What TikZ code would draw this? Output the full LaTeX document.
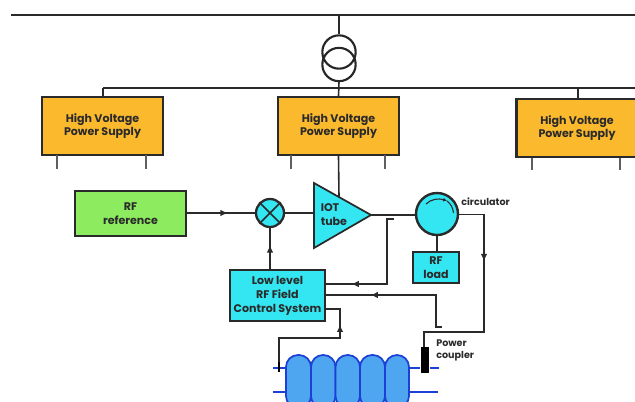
\documentclass[tikz,border=0pt]{standalone}
\usepackage{fontspec}
\setmainfont{Poppins}
\usetikzlibrary{arrows.meta,decorations.markings}
\definecolor{hv}{HTML}{FBB92E}
\definecolor{cy}{HTML}{33E6F2}
\definecolor{gr}{HTML}{8CEB5E}
\definecolor{cavfill}{HTML}{4FA6F0}
\definecolor{cavline}{HTML}{1C3FD6}
\definecolor{ln}{HTML}{2A2A2A}
\tikzset{
  x=0.75pt,y=-0.75pt,
  wire/.style={draw=ln,line width=1.2pt},
  blockbox/.style={draw=ln,line width=1.8pt,inner sep=0pt,align=center,font=\fontsize{8.3}{10.6}\selectfont\bfseries,text=ln},
  hvbox/.style={blockbox,fill=hv,minimum width=90.75pt,minimum height=43.5pt},
  tip/.style={postaction={decorate},decoration={markings,mark=at position #1 with {\arrow{Latex[length=5.5pt,width=5pt]}}}},
  cell/.style={draw=cavline,fill=cavfill,line width=1.3pt,rounded corners=9pt},
  pipe/.style={draw=cavline,line width=1.2pt},
  lab/.style={font=\fontsize{7.2}{9}\selectfont\bfseries,text=ln,align=left,inner sep=0pt}
}
\begin{document}
\begin{tikzpicture}
\useasboundingbox (0,0) rectangle (635,401);
\clip (0,0) rectangle (635,401);
% supply and transformer
\coordinate (busL) at (11,15);
\coordinate (busR) at (635,15);
\draw[draw=ln,line width=1.4pt] (busL) -- (busR);
\node[draw=ln!90!black,line width=1.6pt,circle,minimum size=25pt,inner sep=0pt] (t1) at (339,52) {};
\node[draw=ln!90!black,line width=1.6pt,circle,minimum size=25pt,inner sep=0pt] (t2) at (339,64.5) {};
\coordinate (busTap) at (339,15);
\draw[wire] (busTap) -- (t1.north);
% power supplies
\node[hvbox] (h1) at (102.5,126) {\raisebox{1pt}{\begin{tabular}{@{}c@{}}High Voltage\\[-1pt]Power Supply\end{tabular}}};
\node[hvbox] (h2) at (338.5,126) {\raisebox{1pt}{\begin{tabular}{@{}c@{}}High Voltage\\[-1pt]Power Supply\end{tabular}}};
\node[hvbox] (h3) at (577,128) {\raisebox{1pt}{\begin{tabular}{@{}c@{}}High Voltage\\[-1pt]Power Supply\end{tabular}}};
\coordinate (dL) at (103,88);
\coordinate (dR) at (635,88);
\coordinate (dT) at (578,88);
\draw[wire] (t2.south) -- (h2.north);
\draw[wire] (dL) -- (dR);
\draw[wire] (dL) -- (dL |- h1.north);
\draw[wire] (dT) -- (dT |- h3.north);
\foreach \n/\a/\b/\ya/\yb in {1/57/146/155/169,2/291/385/155/169,3/532/620/158/170}{
  \coordinate (sa\n) at (\a,\ya); \coordinate (sb\n) at (\a,\yb);
  \coordinate (ta\n) at (\b,\ya); \coordinate (tb\n) at (\b,\yb);
  \draw[wire,draw=ln!75] (sa\n) -- (sb\n);
  \draw[wire,draw=ln!75] (ta\n) -- (tb\n);
}
% RF chain
\coordinate (tubeTop) at (339,197);
\draw[wire] (h2.south) -- (tubeTop);
\node[blockbox,fill=gr,minimum width=83.25pt,minimum height=33.75pt] (ref) at (130.5,213.5) {RF\\reference};
\node[draw=ln,line width=1.7pt,fill=cy,circle,minimum size=21pt,inner sep=0pt] (mix) at (270,213) {};
\draw[draw=ln,line width=1.1pt] (mix.north west) -- (mix.south east) (mix.north east) -- (mix.south west);
\path[fill=cy,draw=ln,line width=1.3pt] (314,183) coordinate (tA) -- (371,215) coordinate (tC) -- (314,248) coordinate (tB) -- cycle;
\node[font=\fontsize{8.3}{10.6}\selectfont\bfseries,text=ln,align=left,inner sep=0pt,anchor=west] (iot) at (320.5,215) {IOT\\tube};
\node[draw=ln,line width=1.8pt,fill=cy,circle,minimum size=31.5pt,inner sep=0pt] (circ) at (437,214) {};
\draw[draw=ln,line width=0.8pt,-{Latex[length=3pt,width=3pt]}] (426,204) .. controls (431,199) and (439,198) .. (447,201);
\draw[draw=ln,line width=0.8pt] (447,201) .. controls (451,204) and (453,208) .. (453.5,213);
\node[blockbox,fill=cy,minimum width=34.5pt,minimum height=23.25pt] (load) at (436,267.5) {RF\\load};
\node[blockbox,fill=cy,minimum width=71.25pt,minimum height=38.25pt] (llrf) at (277.5,295.5) {Low level\\RF Field\\Control System};
\node[lab,anchor=west] (clab) at (461,202) {circulator};
\node[lab,anchor=west] (plab) at (436,350) {Power\\coupler};
\draw[wire,tip=0.6] (ref.east |- mix.west) -- (mix.west);
\draw[wire] (mix.east) -- (314,213);
\draw[wire] (tC) -- (circ.west |- tC);
\draw[wire] (circ.south) -- (load.north -| circ.south);
\draw[wire,tip=0.58] (llrf.north -| mix.south) -- (mix.south);
% feedback
\coordinate (fb1) at (394,219);
\coordinate (fb2) at (387,219);
\coordinate (fb3) at (387,284);
\draw[wire,tip=0.81] (fb1) -- (fb2) -- (fb3) -- (fb3 -| llrf.east);
\coordinate (fc1) at (442,327);
\coordinate (fc2) at (436,327);
\coordinate (fc3) at (436,295);
\draw[wire,tip=0.7] (fc1) -- (fc2) -- (fc3) -- (fc3 -| llrf.east);
\coordinate (pu1) at (279,368);
\coordinate (pu2) at (279,338);
\coordinate (pu3) at (340,338);
\coordinate (pu4) at (340,309);
\draw[wire,tip=0.78] (pu1) -- (pu2) -- (pu3) -- (pu4) -- (pu4 -| llrf.east);
% circulator to coupler
\node[fill=black,minimum width=6pt,minimum height=19.5pt,inner sep=0pt] (coup) at (424.5,360) {};
\coordinate (ca) at (484,214.5);
\coordinate (cb) at (484,332);
\coordinate (cc) at (424,332);
\draw[wire,tip=0.33] (circ.east |- ca) -- (ca) -- (cb) -- (cc) -- (coup.north -| cc);
% cavity
\coordinate (pl1) at (273,368); \coordinate (pl2) at (286,368);
\coordinate (pr1) at (409,368); \coordinate (pr2) at (420,368);
\coordinate (pr3) at (430,368); \coordinate (pr4) at (439,368);
\coordinate (ql1) at (273,392); \coordinate (ql2) at (286,392);
\coordinate (qr1) at (409,392); \coordinate (qr2) at (438,392);
\draw[pipe] (pl1) -- (pl2) (pr1) -- (pr2) (pr3) -- (pr4) (ql1) -- (ql2) (qr1) -- (qr2);
\foreach \a/\b in {286/311,311/335.5,335.5/360,360/385,385/409}{
  \path[cell] (\a,355) rectangle (\b,408);
}
\draw[draw=black,line width=1.8pt] (279,362) -- (279,372);
\end{tikzpicture}
\end{document}
